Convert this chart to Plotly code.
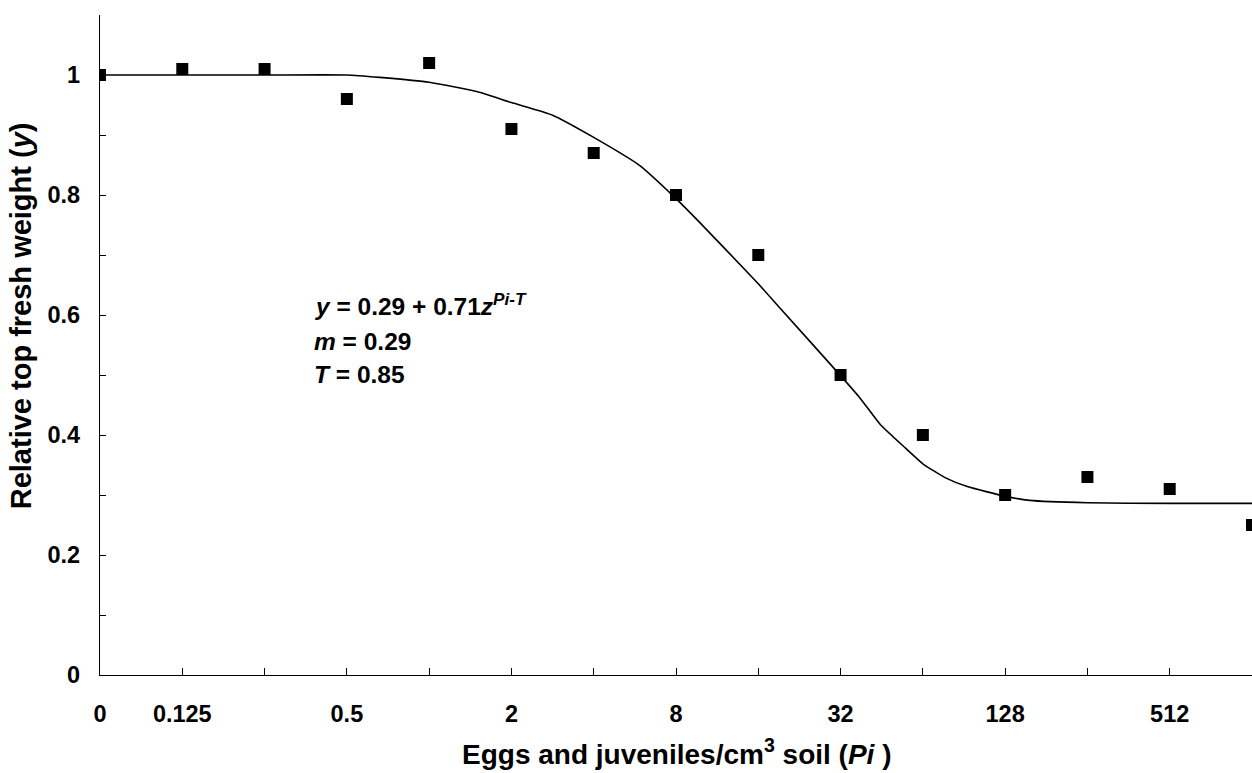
import plotly.graph_objects as go

# Categories (Pi, eggs and juveniles / cm3 soil), equally spaced (log2 steps)
pi_labels = ["0", "0.125", "0.25", "0.5", "1", "2", "4", "8", "16", "32",
             "64", "128", "256", "512", "1024"]
# Category labels printed under the axis
x_tick_labels = ["0", "0.125", "0.5", "2", "8", "32", "128", "512"]
# Observed relative top fresh weight
rel_weight = [1.00, 1.01, 1.01, 0.96, 1.02, 0.91, 0.87, 0.80, 0.70, 0.50,
              0.40, 0.30, 0.33, 0.31, 0.25]

# Fitted curve (position in category units, value)
curve_pos = [0, 1, 2, 3, 3.4, 4, 4.62, 5, 5.5, 6, 6.56, 7, 7.29, 8, 8.26,
             9, 9.24, 9.48, 9.79, 10.0, 10.27, 10.54, 11, 11.3, 12, 13, 14]
curve_val = [1.0, 1.0, 1.0, 1.0, 0.996, 0.988, 0.971, 0.954, 0.933, 0.896,
             0.849, 0.794, 0.754, 0.652, 0.612, 0.499, 0.461, 0.418, 0.378,
             0.352, 0.329, 0.314, 0.298, 0.291, 0.287, 0.286, 0.286]

y_tick_vals = [0, 0.2, 0.4, 0.6, 0.8, 1.0]
y_tick_labels = ["0", "0.2", "0.4", "0.6", "0.8", "1"]

positions = list(range(len(pi_labels)))
x_tick_pos = [pi_labels.index(t) for t in x_tick_labels]

FONT = "Liberation Sans, Arial, sans-serif"

fig = go.Figure()
fig.add_trace(go.Scatter(
    x=curve_pos, y=curve_val, mode="lines",
    line=dict(color="black", width=1.6, shape="spline", smoothing=0.5),
    hoverinfo="skip", showlegend=False))
fig.add_trace(go.Scatter(
    x=positions, y=rel_weight, mode="markers",
    marker=dict(symbol="square", size=12, color="black"),
    text=pi_labels, showlegend=False))

fig.update_layout(
    width=1252, height=773,
    margin=dict(l=100, r=0, t=15, b=98),
    paper_bgcolor="white", plot_bgcolor="white",
    font=dict(family=FONT, color="black"),
    xaxis=dict(
        range=[0, 14], tickmode="array", tickvals=x_tick_pos,
        ticktext=["<b>%s</b>" % t for t in x_tick_labels],
        ticks="inside", ticklen=7, tickwidth=1.2, tickcolor="black",
        minor=dict(tick0=0, dtick=1, ticks="inside", ticklen=7,
                   tickwidth=1.2, tickcolor="black", showgrid=False),
        showline=True, linecolor="black", linewidth=1.3,
        showgrid=False, zeroline=False,
        tickfont=dict(size=23.5, family=FONT, color="black"),
        ticklabelstandoff=18),
    yaxis=dict(
        range=[0, 1.1], tickmode="array", tickvals=y_tick_vals,
        ticktext=["<b>%s</b>" % t for t in y_tick_labels],
        ticks="inside", ticklen=6, tickwidth=1.2, tickcolor="black",
        minor=dict(tick0=0, dtick=0.1, ticks="inside", ticklen=6,
                   tickwidth=1.2, tickcolor="black", showgrid=False),
        showline=True, linecolor="black", linewidth=1.3,
        showgrid=False, zeroline=False,
        tickfont=dict(size=23.5, family=FONT, color="black"),
        ticklabelstandoff=14),
)

annos = [
    dict(text="<b>Eggs and juveniles/cm<sup>3</sup> soil (<i>Pi</i> )</b>",
         xref="paper", yref="paper", x=0.5, y=-0.1167,
         xanchor="center", yanchor="middle", font=dict(size=28)),
    dict(text="<b>Relative top fresh weight (<i>y</i>)</b>",
         xref="paper", yref="paper", x=-0.0686, y=0.545, textangle=-90,
         xanchor="center", yanchor="middle", font=dict(size=29)),
    dict(text="<b><i>y</i> = 0.29 + 0.71<i>z</i><sup><i>Pi-T</i></sup></b>",
         xref="x", yref="y", x=2.576, y=0.617,
         xanchor="left", yanchor="middle", font=dict(size=24.5)),
    dict(text="<b><i>m</i> = 0.29</b>",
         xref="x", yref="y", x=2.576, y=0.556,
         xanchor="left", yanchor="middle", font=dict(size=24.5)),
    dict(text="<b><i>T</i> = 0.85</b>",
         xref="x", yref="y", x=2.576, y=0.501,
         xanchor="left", yanchor="middle", font=dict(size=24.5)),
]
for a in annos:
    a["showarrow"] = False
    a["font"]["family"] = FONT
    a["font"]["color"] = "black"
    fig.add_annotation(**a)

# remove the page's default 8px body margin so the figure fills the window
fig.write_html("out.html",
               config={"displayModeBar": False},
               post_script="document.body.style.margin='0';"
                           "document.body.style.overflow='hidden';")
